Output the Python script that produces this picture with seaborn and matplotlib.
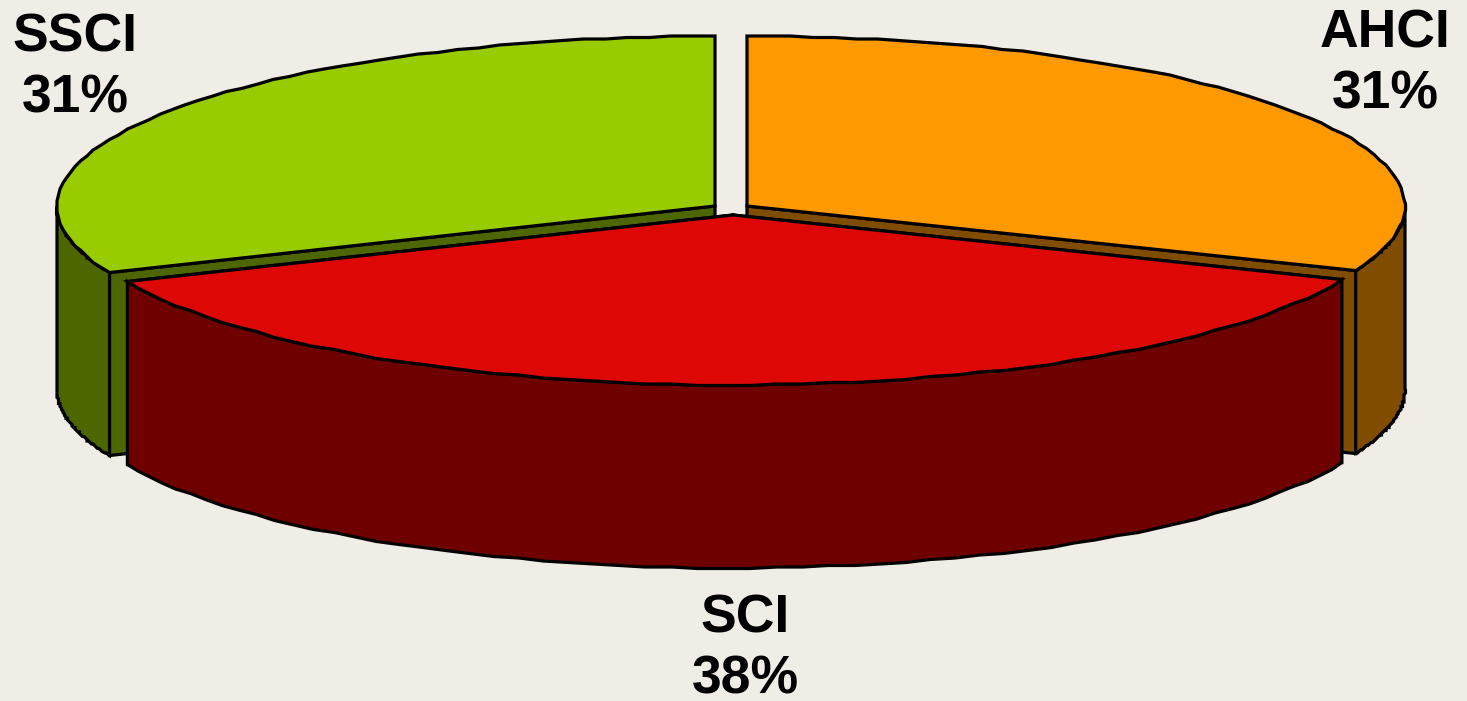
import numpy as np
import matplotlib
matplotlib.use("Agg")
import matplotlib.pyplot as plt
from matplotlib.patches import Polygon
import seaborn as sns

# Data
categories = ["AHCI", "SCI", "SSCI"]
shares = [31.2, 37.4, 31.4]
share_labels = ["31%", "38%", "31%"]
top_colors = ["#FF9900", "#DD0806", "#99CC00"]
side_colors = ["#804D00", "#6E0000", "#4D6600"]

# Layout (pixels)
W, H = 1467, 701
BG = "#EFEDE5"
centers = {"AHCI": (747, 206), "SCI": (733, 215), "SSCI": (715, 206)}
RX, RY, DEPTH = 658, 170, 183
label_pos = {"AHCI": (1385, 64), "SCI": (745, 649), "SSCI": (75, 68)}
LW = 2.3
SNAP = 1.5

sns.set_theme(style="white")
plt.rcParams["font.family"] = ["Liberation Sans", "DejaVu Sans"]

fig, ax = plt.subplots(figsize=(W / 100, H / 100), dpi=100)
fig.patch.set_facecolor(BG)
ax.set_facecolor(BG)
ax.set_position([0, 0, 1, 1])
ax.set_xlim(0, W)
ax.set_ylim(H, 0)
ax.axis("off")


def rim(c, a0, a1, n=60):
    """Points on the rim; angles in degrees, clockwise on screen from 12 o'clock."""
    t = np.radians(np.linspace(a0, a1, n))
    pts = np.column_stack([c[0] + RX * np.sin(t), c[1] - RY * np.cos(t)])
    if n > 1:  # slightly stepped outline, keeping the exact end points
        pts[1:-1] = np.round(pts[1:-1] / SNAP) * SNAP
    return pts


def poly(pts, color, z):
    ax.add_patch(Polygon(pts, closed=True, facecolor=color, edgecolor="black",
                         linewidth=LW, joinstyle="miter", zorder=z))


edges = np.cumsum([0] + shares) * 3.6
order = {"SSCI": 1, "AHCI": 2, "SCI": 3}
for i, name in enumerate(categories):
    a0, a1 = edges[i], edges[i + 1]
    c = centers[name]
    z = order[name] * 10
    down = np.array([0, DEPTH])
    # radial cut faces visible below the neighbouring top
    for a in (a0, a1):
        if 90 < a < 270:
            e = rim(c, a, a, 1)[0]
            poly([c, e, e + down, np.array(c) + down], side_colors[i], z)
    # outer wall: only the front half of the rim is visible
    lo, hi = max(a0, 90), min(a1, 270)
    if hi > lo:
        r = rim(c, lo, hi)
        poly(np.vstack([r, (r + down)[::-1]]), side_colors[i], z + 1)
    # top face
    poly(np.vstack([[c], rim(c, a0, a1)]), top_colors[i], z + 2)
    ax.text(*label_pos[name], f"{name}\n{share_labels[i]}", ha="center", va="center",
            multialignment="center", fontsize=38.5, fontweight="bold",
            color="black", linespacing=1.26, zorder=50)

fig.savefig("out.png", dpi=100, facecolor=BG)
